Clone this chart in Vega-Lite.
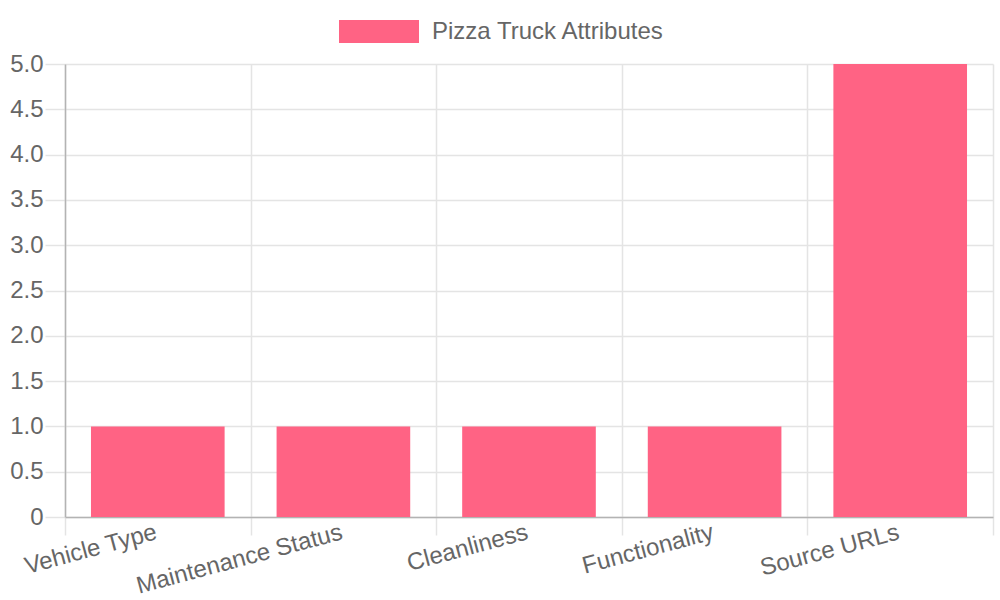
{
  "$schema": "https://vega.github.io/schema/vega-lite/v6.json",
  "width": 928,
  "height": 453,
  "autosize": {"type": "none"},
  "padding": {"left": 65, "top": 64, "right": 7, "bottom": 83},
  "background": "white",
  "config": {
    "view": {"stroke": null},
    "font": "Liberation Sans",
    "axis": {
      "labelFont": "Liberation Sans",
      "labelFontSize": 24,
      "labelLimit": 500,
      "labelColor": "#666666",
      "gridColor": "#e4e4e4",
      "gridWidth": 1.5,
      "tickColor": "#e4e4e4",
      "tickWidth": 1.5,
      "domainColor": "#b3b3b3",
      "domainWidth": 1.5,
      "title": null
    }
  },
  "data": {
    "values": [
      {"attribute": "Vehicle Type", "value": 1},
      {"attribute": "Maintenance Status", "value": 1},
      {"attribute": "Cleanliness", "value": 1},
      {"attribute": "Functionality", "value": 1},
      {"attribute": "Source URLs", "value": 5}
    ]
  },
  "mark": {"type": "bar", "width": {"band": 0.72}},
  "encoding": {
    "x": {
      "field": "attribute",
      "type": "nominal",
      "sort": null,
      "scale": {"paddingInner": 0, "paddingOuter": 0},
      "axis": {
        "tickBand": "extent",
        "grid": true,
        "labelAngle": -15,
        "labelAlign": "right",
        "labelBaseline": "top",
        "tickSize": 18,
        "labelPadding": -15,
        "labelOffset": -5
      }
    },
    "y": {
      "field": "value",
      "type": "quantitative",
      "scale": {"domain": [0, 5], "nice": false},
      "axis": {
        "values": [0, 0.5, 1, 1.5, 2, 2.5, 3, 3.5, 4, 4.5, 5],
        "labelExpr": "datum.value === 0 ? '0' : format(datum.value, '.1f')",
        "tickSize": 20,
        "labelPadding": 2,
        "grid": true
      }
    },
    "color": {
      "datum": "Pizza Truck Attributes",
      "type": "nominal",
      "scale": {"range": ["#ff6384"]},
      "legend": {
        "orient": "none",
        "legendX": 274,
        "legendY": -72.5,
        "title": null,
        "padding": 0,
        "symbolType": "M-1,-0.2875L1,-0.2875L1,0.2875L-1,0.2875Z",
        "symbolSize": 6400,
        "symbolStrokeWidth": 0,
        "symbolOpacity": 1,
        "labelFont": "Liberation Sans",
        "labelFontSize": 24,
        "labelLimit": 500,
        "labelColor": "#666666",
        "labelOffset": 13
      }
    }
  }
}
